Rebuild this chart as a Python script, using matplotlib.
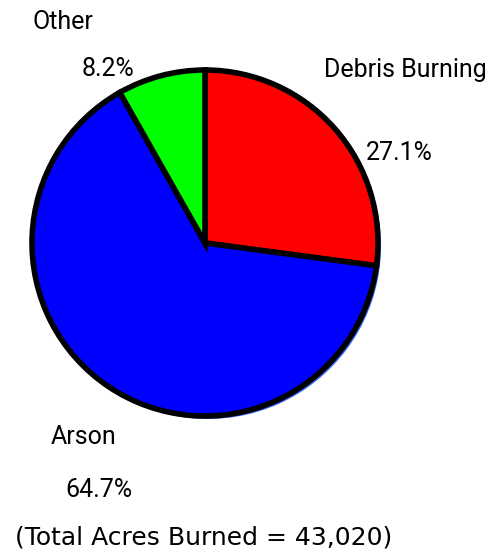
import matplotlib.pyplot as plt

categories = ['Debris Burning', 'Arson', 'Other']
shares = [27.1, 64.7, 8.2]
colors = ['#ff0000', '#0000ff', '#00ff00']
total_acres = '43,020'

W, H = 493, 552
fig = plt.figure(figsize=(W / 100, H / 100), dpi=100)
ax = fig.add_axes([0, 0, 1, 1])

cx, cy, r = 205, H - 243, 173

# blue-ish shadow behind the pie
ax.pie(shares, colors=['#3366ff'] * 3, startangle=90, counterclock=False,
       center=(cx + 3, cy - 3), radius=r, frame=True,
       wedgeprops=dict(linewidth=0))
ax.pie(shares, colors=colors, startangle=90, counterclock=False,
       center=(cx, cy), radius=r, frame=True,
       wedgeprops=dict(edgecolor='black', linewidth=4, joinstyle='miter'))
ax.set_xlim(0, W)
ax.set_ylim(0, H)
ax.set_aspect('equal')
ax.axis('off')

lab = dict(fontsize=18, family=['Roboto', 'DejaVu Sans'], ha='center', va='center')
pct = dict(fontsize=18, family=['Roboto', 'DejaVu Sans'], ha='center', va='center')
ax.text(63, H - 22, categories[2], **lab)
ax.text(108, H - 69, f'{shares[2]}%', **pct)
ax.text(405, H - 70, categories[0], **lab)
ax.text(399, H - 153, f'{shares[0]}%', **pct)
ax.text(84, H - 437, categories[1], **lab)
ax.text(99, H - 490, f'{shares[1]}%', **pct)
ax.text(204, H - 537, f'(Total Acres Burned = {total_acres})',
        fontsize=18, family='DejaVu Sans', ha='center', va='center')

fig.savefig('out.png', dpi=100)
